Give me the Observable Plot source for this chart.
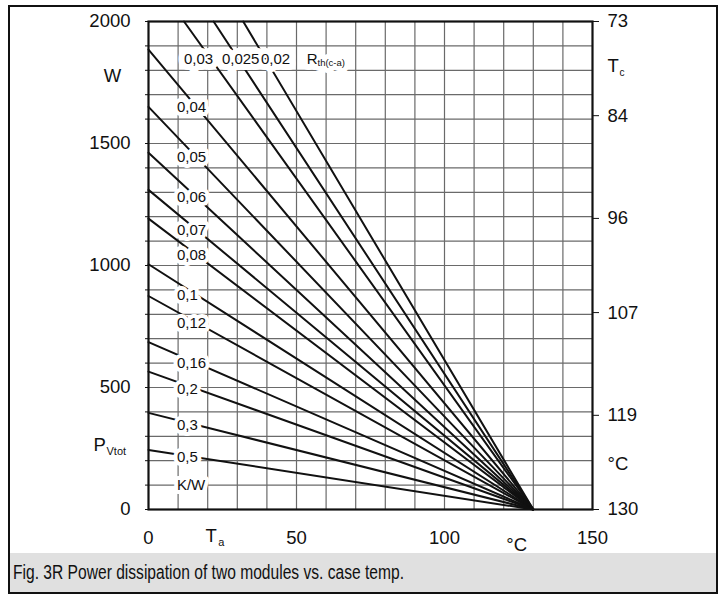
<!DOCTYPE html>
<html>
<head>
<meta charset="utf-8">
<script src="https://cdn.jsdelivr.net/npm/d3@7"></script>
<script src="https://cdn.jsdelivr.net/npm/@observablehq/plot@0.6"></script>
<style>
  body { margin: 0; background: #fff; }
  #fig { position: relative; width: 725px; height: 596px; background: #fff; overflow: hidden;
         font-family: "Liberation Sans", Arial, sans-serif; }
  #chart { position: absolute; left: 0; top: 0; }
  #caption { position: absolute; left: 10px; top: 553px; width: 706px; height: 39px; background: #e0e0e0; }
  #caption span { position: absolute; left: 3px; top: 8px; font-size: 19.5px; color: #111; white-space: nowrap;
                  transform: scaleX(0.8); transform-origin: left top; }
  #border { position: absolute; left: 8px; top: 5px; width: 710px; height: 589px;
            border: 2.5px solid #111; box-sizing: border-box; }
</style>
</head>
<body>
<div id="fig">
  <div id="chart"></div>
  <div id="caption"><span>Fig. 3R Power dissipation of two modules vs. case temp.</span></div>
  <div id="border"></div>
</div>
<script>
// Thermal resistance case-to-ambient (K/W) of each derating line
const rthLabels = ["0,02", "0,025", "0,03", "0,04", "0,05", "0,06", "0,07", "0,08", "0,1", "0,12", "0,16", "0,2", "0,3", "0,5"];
// Where each line enters the chart: ambient temperature (°C) and power (W)
const startTa = [32, 22, 12, 0, 0, 0, 0, 0, 0, 0, 0, 0, 0, 0];
const startP  = [2000, 2000, 2000, 1885, 1650, 1462, 1310, 1192, 1005, 875, 686, 565, 396, 244];
// Every line reaches zero power at the same ambient temperature
const endTa = 130;
const endP = 0;

// Axis ticks
const xTickLabels = [0, 50, 100, 150];
const yTickLabels = [0, 500, 1000, 1500, 2000];
const tcTickLabels = [73, 84, 96, 107, 119, 130];   // case temperature, right axis
const xGrid = d3.range(10, 150, 10);
const yGrid = d3.range(100, 2000, 100);
const yMinorTicks = d3.range(0, 2001, 100);

// Case temperature scale: 130 °C at 0 W down to 73 °C at 2000 W
const tcAtZero = 130, tcAtMax = 73, pMax = 2000;
const tcToP = tc => (tcAtZero - tc) * pMax / (tcAtZero - tcAtMax);
const pToTc = p => Math.round(tcAtZero - p * (tcAtZero - tcAtMax) / pMax);

const rows = rthLabels.flatMap((r, i) => [
  {r, ta: startTa[i], p: startP[i]},
  {r, ta: endTa, p: endP}
]);

// Labels of the steeper lines sit in a column near the left edge, on their line
const labelColumnTa = 9.6, labelOnLineTa = 16.3;
const leftLabels = rthLabels.map((r, i) => ({r, i})).filter(d => startTa[d.i] === 0).map(({r, i}) => ({
  r,
  ta: labelColumnTa,
  p: startP[i] + (endP - startP[i]) * (labelOnLineTa - startTa[i]) / (endTa - startTa[i]),
  size: 15
}));
leftLabels.push({r: "K/W", ta: labelColumnTa, p: 100, size: 15});

// Labels of the lines that leave through the top edge, followed by the quantity name
const topLabels = rthLabels.map((r, i) => ({r, i})).filter(d => startTa[d.i] > 0)
  .map(({r, i}) => ({r, ta: [38.0, 24.8, 12.0][i], p: 1845, size: 15}));
topLabels.push({r: "R", ta: 53.5, p: 1845, size: 15});
topLabels.push({r: "th(c-a)", ta: 57.1, p: 1845, size: 9.5, dy: 4});

const font = "'Liberation Sans', Arial, sans-serif";

// White knock-out behind a set of labels, drawn before the labels themselves
const knockout = (data, width) => Plot.text(data, {
  x: "ta", y: "p", text: "r", textAnchor: "start", fontSize: d => d.size,
  fill: "white", stroke: "white", strokeWidth: width, strokeLinejoin: "round"
});
const labels = (data) => Plot.text(data, {
  x: "ta", y: "p", text: "r", textAnchor: "start", fontSize: d => d.size, fill: "#111"
});
const topMain = topLabels.filter(d => !d.dy);
const topSub = topLabels.filter(d => d.dy);

const chart = Plot.plot({
  width: 725,
  height: 553,
  marginLeft: 148,
  marginRight: 133,
  marginTop: 21,
  marginBottom: 44,
  x: {domain: [0, 150]},
  y: {domain: [0, 2000]},
  style: {fontFamily: font, fontSize: "18.5px", color: "#111", background: "transparent", overflow: "visible"},
  marks: [
    Plot.ruleX(xGrid, {stroke: "#6a6a6a", strokeWidth: 1.2}),
    Plot.ruleY(yGrid, {stroke: "#6a6a6a", strokeWidth: 1.2}),
    Plot.line(rows, {x: "ta", y: "p", z: "r", stroke: "#111", strokeWidth: 2}),
    knockout(leftLabels, 8),
    knockout(topMain, 12),
    Plot.text(topSub, {x: "ta", y: "p", text: "r", textAnchor: "start", fontSize: 9.5, dy: 4,
                       fill: "white", stroke: "white", strokeWidth: 10, strokeLinejoin: "round"}),
    labels(leftLabels),
    labels(topMain),
    Plot.text(topSub, {x: "ta", y: "p", text: "r", textAnchor: "start", fontSize: 9.5, dy: 4, fill: "#111"}),
    Plot.frame({stroke: "#111", strokeWidth: 2.2}),
    Plot.axisY({anchor: "left", label: null, ticks: yMinorTicks, tickSize: 3, tickPadding: 15,
                tickFormat: d => yTickLabels.includes(d) ? String(d) : ""}),
    Plot.axisY({anchor: "right", label: null, ticks: tcTickLabels.map(tcToP), tickSize: 6, tickPadding: 9,
                tickFormat: d => String(pToTc(d))}),
    Plot.axisX({anchor: "bottom", label: null, ticks: xTickLabels, tickSize: 0, tickPadding: 21}),
    // Axis names and units
    Plot.text(["W"], {x: 0, y: 1775, dx: -36, text: d => d, textAnchor: "middle"}),
    Plot.text(["P"], {x: 0, y: 262, dx: -55, text: d => d, textAnchor: "start"}),
    Plot.text(["Vtot"], {x: 0, y: 262, dx: -42, dy: 6, text: d => d, textAnchor: "start", fontSize: 11}),
    Plot.text(["T"], {x: 21.2, y: 0, dy: 27, text: d => d, textAnchor: "middle"}),
    Plot.text(["a"], {x: 21.2, y: 0, dx: 7, dy: 33, text: d => d, textAnchor: "start", fontSize: 11}),
    Plot.text(["°C"], {x: 124.4, y: 0, dy: 36, text: d => d, textAnchor: "middle"}),
    Plot.text(["T"], {x: 150, y: 1816, dx: 15, text: d => d, textAnchor: "start"}),
    Plot.text(["c"], {x: 150, y: 1816, dx: 27, dy: 6, text: d => d, textAnchor: "start", fontSize: 10}),
    Plot.text(["°C"], {x: 150, y: 188, dx: 15, text: d => d, textAnchor: "start"})
  ]
});

document.getElementById("chart").appendChild(chart);
</script>
</body>
</html>
